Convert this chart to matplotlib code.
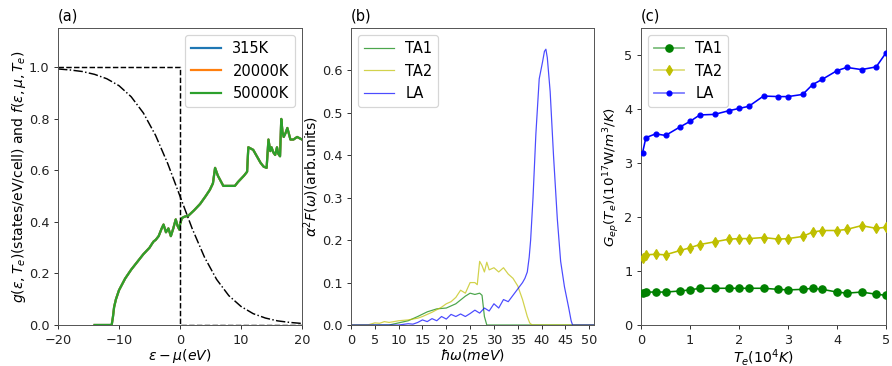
import numpy as np
import matplotlib
matplotlib.use('Agg')
import matplotlib.pyplot as plt
from matplotlib.colors import to_rgba

# ---- panel (a): DOS and Fermi functions ----
energy = [-14, -11.2, -11.0, -10.8, -10.5, -10, -9, -8, -7, -6, -5, -4.6, -4.3, -4.0,
          -3.5, -3.0, -2.7, -2.3, -1.9, -1.5, -1.1, -0.7, -0.4, -0.1, 0.0, 0.3, 0.7,
          1.4, 2.3, 3.3, 4.2, 4.9, 5.4, 5.75, 6.2, 7.1, 8.0, 9.0, 9.5, 9.9, 10.5,
          11.0, 11.2, 11.6, 12.0, 12.6, 13.2, 13.7, 14.2, 14.5, 14.8, 15.0, 15.3,
          15.6, 15.9, 16.1, 16.4, 16.6, 16.8, 17.0, 17.3, 17.6, 18.1, 18.6, 19.2, 20]
dos = [0, 0, 0.03, 0.07, 0.10, 0.135, 0.18, 0.215, 0.245, 0.275, 0.30, 0.315, 0.325,
       0.33, 0.345, 0.375, 0.39, 0.36, 0.375, 0.345, 0.375, 0.41, 0.385, 0.37, 0.39,
       0.415, 0.42, 0.425, 0.445, 0.47, 0.50, 0.525, 0.55, 0.61, 0.58, 0.54, 0.54,
       0.54, 0.555, 0.565, 0.58, 0.595, 0.69, 0.685, 0.68, 0.655, 0.63, 0.615, 0.61,
       0.72, 0.675, 0.69, 0.67, 0.66, 0.69, 0.665, 0.655, 0.80, 0.75, 0.73, 0.745,
       0.765, 0.72, 0.72, 0.73, 0.72]
temps = ['315K', '20000K', '50000K']

fermi_e = [-20, -18, -16, -14, -12, -10, -8, -6, -4, -2, 0,
           2, 4, 6, 8, 10, 12, 14, 16, 18, 20]
fermi_hot = [0.994, 0.990, 0.984, 0.973, 0.956, 0.929, 0.886, 0.823, 0.736, 0.626, 0.5,
             0.374, 0.264, 0.177, 0.114, 0.072, 0.044, 0.027, 0.016, 0.010, 0.006]
step_e = [-20, 0, 0, 20]
step_f = [1, 1, 0, 0]

# ---- panel (b): mode-resolved Eliashberg function ----
w_ta1 = [0, 8, 10, 12, 14, 16, 18, 20, 22, 24, 25, 26, 27, 27.5, 28, 28.5, 51]
f_ta1 = [0, 0, 0.005, 0.01, 0.02, 0.031, 0.038, 0.04, 0.05, 0.068, 0.075, 0.072, 0.075,
         0.07, 0.02, 0, 0]
w_ta2 = [0, 3.5, 5, 6, 7, 8, 10, 12, 14, 15, 17, 19, 20, 21, 22, 23, 24, 25, 26, 26.5,
         27, 27.5, 28, 28.5, 29, 30, 31, 32, 33, 34, 35, 36, 37, 37.5, 38, 51]
f_ta2 = [0, 0, 0.005, 0.004, 0.008, 0.006, 0.01, 0.012, 0.016, 0.02, 0.03, 0.042, 0.05,
         0.055, 0.065, 0.082, 0.075, 0.1, 0.1, 0.095, 0.15, 0.14, 0.125, 0.148, 0.13, 0.135,
         0.125, 0.135, 0.12, 0.11, 0.092, 0.06, 0.02, 0.005, 0, 0]
w_la = [0, 10, 12, 13, 14, 15, 16, 17, 18, 19, 20, 21, 22, 23, 24, 25, 26, 27, 28, 29,
        30, 31, 32, 33, 34, 35, 36, 36.5, 37, 37.4, 37.7, 38.2, 38.8, 39.5, 40.2, 40.6,
        40.9, 41.2, 41.8, 42.5, 43.3, 44, 44.8, 45.7, 46.2, 46.5, 51]
f_la = [0, 0, 0.003, 0.002, 0.006, 0.012, 0.008, 0.015, 0.01, 0.02, 0.014, 0.025, 0.02,
        0.026, 0.02, 0.027, 0.035, 0.028, 0.04, 0.033, 0.05, 0.04, 0.06, 0.055, 0.07,
        0.085, 0.1, 0.11, 0.125, 0.16, 0.2, 0.3, 0.45, 0.58, 0.62, 0.645, 0.65, 0.63,
        0.55, 0.4, 0.25, 0.15, 0.09, 0.04, 0.01, 0, 0]

# ---- panel (c): electron-phonon coupling factor ----
te = [0.0315, 0.1, 0.3, 0.5, 0.8, 1.0, 1.2, 1.5, 1.8, 2.0, 2.2, 2.5, 2.8, 3.0, 3.3,
      3.5, 3.7, 4.0, 4.2, 4.5, 4.8, 5.0]
g_ta1 = [0.59, 0.61, 0.61, 0.61, 0.63, 0.65, 0.68, 0.68, 0.68, 0.68, 0.68, 0.68, 0.66,
         0.65, 0.66, 0.68, 0.66, 0.61, 0.59, 0.61, 0.57, 0.55]
g_ta2 = [1.24, 1.30, 1.31, 1.30, 1.38, 1.43, 1.49, 1.54, 1.59, 1.60, 1.60, 1.62, 1.59,
         1.60, 1.64, 1.72, 1.75, 1.75, 1.77, 1.84, 1.79, 1.81]
g_la = [3.19, 3.47, 3.54, 3.51, 3.67, 3.77, 3.89, 3.90, 3.97, 4.01, 4.05, 4.24, 4.23,
        4.23, 4.27, 4.45, 4.55, 4.71, 4.77, 4.73, 4.78, 5.04]

LABEL_FS = 11.5
LEGEND_FS = 12

fig = plt.figure(figsize=(892 / 88, 366 / 88), dpi=88)
ax_a = fig.add_axes([58 / 892, 1 - 325 / 366, 244 / 892, 297 / 366])
ax_b = fig.add_axes([351 / 892, 1 - 325 / 366, 243 / 892, 297 / 366])
ax_c = fig.add_axes([641 / 892, 1 - 325 / 366, 245 / 892, 297 / 366])

# (a)
for t in temps:
    ax_a.plot(energy, dos, label=t, lw=1.8)
ax_a.plot(step_e, step_f, 'k--', lw=1.2)
ax_a.plot(fermi_e, fermi_hot, 'k-.', lw=1.2)
ax_a.set_xlim(-20, 20)
ax_a.set_ylim(0, 1.153)
ax_a.set_xticks([-20, -10, 0, 10, 20])
ax_a.set_yticks([0, 0.2, 0.4, 0.6, 0.8, 1.0])
ax_a.set_xlabel(r'$\epsilon-\mu(eV)$', labelpad=0, fontsize=LABEL_FS)
ax_a.set_ylabel(r'$g(\epsilon,T_e)$(states/eV/cell) and $f(\epsilon,\mu,T_e)$',
                labelpad=1, fontsize=LABEL_FS)
ax_a.set_title('(a)', loc='left', fontsize=12)
ax_a.legend(loc='upper right', fontsize=LEGEND_FS)

# (b)
ax_b.plot(w_ta1, f_ta1, color='g', alpha=0.7, lw=1, label='TA1')
ax_b.plot(w_ta2, f_ta2, color='y', alpha=0.7, lw=1, label='TA2')
ax_b.plot(w_la, f_la, color='b', alpha=0.7, lw=1, label='LA')
ax_b.set_xlim(0, 51)
ax_b.set_ylim(0, 0.70)
ax_b.set_xticks(range(0, 51, 5))
ax_b.set_yticks([0, 0.1, 0.2, 0.3, 0.4, 0.5, 0.6])
ax_b.set_xlabel(r'$\hbar\omega(meV)$', labelpad=0, fontsize=LABEL_FS)
ax_b.set_ylabel(r'$\alpha^2F(\omega)$(arb.units)', labelpad=1, fontsize=LABEL_FS)
ax_b.set_title('(b)', loc='left', fontsize=12)
ax_b.legend(loc='upper left', fontsize=LEGEND_FS)

# (c)
series = [(g_ta1, 'g', 'o', 6, 'TA1'), (g_ta2, 'y', 'd', 6, 'TA2'), (g_la, 'b', 'o', 4, 'LA')]
for vals, col, mk, ms, lab in series:
    ax_c.plot(te, vals, color=col, lw=1.3, marker=mk, ms=ms, zorder=3)
    # legend entry: light line, solid marker
    ax_c.plot([], [], color=to_rgba(col, 0.5), lw=1.5, marker=mk, ms=ms,
              mfc=col, mec=col, label=lab)
ax_c.set_xlim(0, 5)
ax_c.set_ylim(0, 5.5)
ax_c.set_xticks([0, 1, 2, 3, 4, 5])
ax_c.set_yticks([0, 1, 2, 3, 4, 5])
ax_c.set_xlabel(r'$T_e(10^4K)$', labelpad=0, fontsize=LABEL_FS)
ax_c.set_ylabel(r'$G_{ep}(T_e)(10^{17}$W$/m^3/K)$', labelpad=2, fontsize=11)
ax_c.set_title('(c)', loc='left', fontsize=12)
ax_c.legend(loc='upper left', fontsize=LEGEND_FS)

for ax in (ax_a, ax_b, ax_c):
    for sp in ax.spines.values():
        sp.set_color('#555555')
    ax.tick_params(colors='#333333', labelcolor='#222222', labelsize=10.5)

fig.savefig('out.png', dpi=88)
